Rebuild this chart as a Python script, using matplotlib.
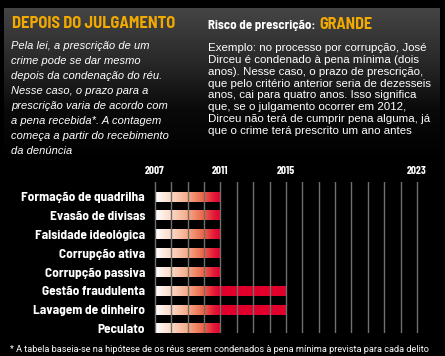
import numpy as np
import matplotlib
matplotlib.use("Agg")
import matplotlib.pyplot as plt
from matplotlib.colors import LinearSegmentedColormap

# ---------------- data ----------------
crimes = ["Formação de quadrilha", "Evasão de divisas", "Falsidade ideológica",
          "Corrupção ativa", "Corrupção passiva", "Gestão fraudulenta",
          "Lavagem de dinheiro", "Peculato"]
start_year = 2007
end_years = [2011, 2011, 2011, 2011, 2011, 2015, 2015, 2011]
label_years = [2007, 2011, 2015, 2023]
grid_years = list(range(2007, 2024))

title_left = "DEPOIS DO JULGAMENTO"
body_left = ["Pela lei, a prescrição de um",
             "crime pode se dar mesmo",
             "depois da condenação do réu.",
             "Nesse caso, o prazo para a",
             "prescrição varia de acordo com",
             "a pena recebida*. A contagem",
             "começa a partir do recebimento",
             "da denúncia"]
title_right_a = "Risco de prescrição:"
title_right_b = "GRANDE"
body_right = ["Exemplo: no processo por corrupção, José",
              "Dirceu é condenado à pena mínima (dois",
              "anos). Nesse caso, o prazo de prescrição,",
              "que pelo critério anterior seria de dezesseis",
              "anos, cai para quatro anos. Isso significa",
              "que, se o julgamento ocorrer em 2012,",
              "Dirceu não terá de cumprir pena alguma, já",
              "que o crime terá prescrito um ano antes"]
footnote = "* A tabela baseia-se na hipótese de os réus serem condenados à pena mínima prevista para cada delito"

# ---------------- style ----------------
BODY = ["Liberation Sans", "DejaVu Sans"]
FOOT = ["Roboto", "DejaVu Sans"]
HEAD = ["Barlow Semi Condensed", "Barlow Condensed", "DejaVu Sans"]
YEARS = ["Barlow Condensed", "DejaVu Sans"]
ORANGE = "#f2a900"
RED = "#e1002b"

W, H = 445, 356
fig = plt.figure(figsize=(W / 100, H / 100), dpi=100, facecolor="black")
renderer = fig.canvas.get_renderer()


def fit(t, target_px):
    w = t.get_window_extent(renderer).width
    t.set_fontsize(t.get_fontsize() * target_px / w)
    return t.get_fontsize()


bg = fig.add_axes([0, 0, 1, 1])
bg.set_xlim(0, W)
bg.set_ylim(H, 0)
bg.axis("off")
bg.set_facecolor("black")

panel_cmap = LinearSegmentedColormap.from_list("panel", ["#454545", "#2a2a2a", "#0a0a0a", "#000000"])
grad = np.linspace(0, 1, 256)[:, None]
bg.imshow(grad, cmap=panel_cmap, extent=(4, 440, 160, 8), aspect="auto", zorder=0)

# left panel text
tl = bg.text(12, 23, title_left, color=ORANGE, fontsize=12, fontweight="bold",
             family=HEAD, va="center", ha="left")
fit(tl, 163)
lefts = []
for i, line in enumerate(body_left):
    lefts.append(bg.text(11, 46 + i * 15, line, color="white", fontsize=8, style="italic",
                         family=BODY, va="center", ha="left"))
fs = fit(lefts[4], 157)
for t in lefts:
    t.set_fontsize(fs)

# right panel text
t1 = bg.text(208, 25, title_right_a, color="white", fontsize=9.5, fontweight="bold",
             family=HEAD, va="center", ha="left")
fit(t1, 108)
x_end = bg.transData.inverted().transform((t1.get_window_extent(renderer).x1, 0))[0]
t2 = bg.text(x_end + 4, 24.5, title_right_b, color=ORANGE, fontsize=11, fontweight="bold",
             family=HEAD, va="center", ha="left")
fit(t2, 53)
rights = []
for i, line in enumerate(body_right):
    rights.append(bg.text(208, 48.3 + i * 11.8, line, color="white", fontsize=8,
                          family=BODY, va="center", ha="left"))
fs = fit(rights[3], 224)
for t in rights:
    t.set_fontsize(fs)

tf = bg.text(10, 349, footnote, color="white", fontsize=6.4, family=FOOT,
             va="center", ha="left")
fit(tf, 418)

# ---------------- chart ----------------
px_per_year = 16.375
x0_px = 155 - 0.1 * px_per_year
x1_px = 417 + 0.1 * px_per_year
top_px, bot_px = 182, 333
ax = fig.add_axes([x0_px / W, 1 - bot_px / H, (x1_px - x0_px) / W, (bot_px - top_px) / H])
ax.set_facecolor("none")

y = np.arange(len(crimes))
widths = [e - start_year for e in end_years]
bar_h = 0.52
bars = ax.barh(y, widths, left=start_year, height=bar_h, color=RED, zorder=2)

bar_cmap = LinearSegmentedColormap.from_list(
    "bar", [(0, "#ffffff"), (0.25, "#fbd8c6"), (0.5, "#f5a987"),
            (0.75, "#eb6044"), (0.9, "#e2183a"), (1.0, RED)])
g = np.linspace(0, 1, 256)[None, :]
for yi, rect in zip(y, bars):
    ax.imshow(g, cmap=bar_cmap, extent=(start_year, start_year + 4, yi + bar_h / 2, yi - bar_h / 2),
              aspect="auto", zorder=3, clip_path=rect, interpolation="bilinear")

ax.set_xlim(start_year - 0.1, grid_years[-1] + 0.1)
ax.set_ylim(7.23, -0.78)

for gy in grid_years:
    ax.axvline(gy, color="#707070", lw=1.0, zorder=4)

ax.xaxis.tick_top()
ax.set_xticks(label_years)
ax.set_xticklabels([str(v) for v in label_years], color="white", fontsize=8,
                   fontweight="bold", family=YEARS)
ax.tick_params(axis="x", length=0, pad=4)
ax.set_yticks(y)
ax.set_yticklabels(crimes, color="white", fontsize=9.6, fontweight="bold", family=HEAD)
ax.tick_params(axis="y", length=0, pad=6)
for s in ax.spines.values():
    s.set_visible(False)

fig.savefig("out.png", dpi=100, facecolor="black")
